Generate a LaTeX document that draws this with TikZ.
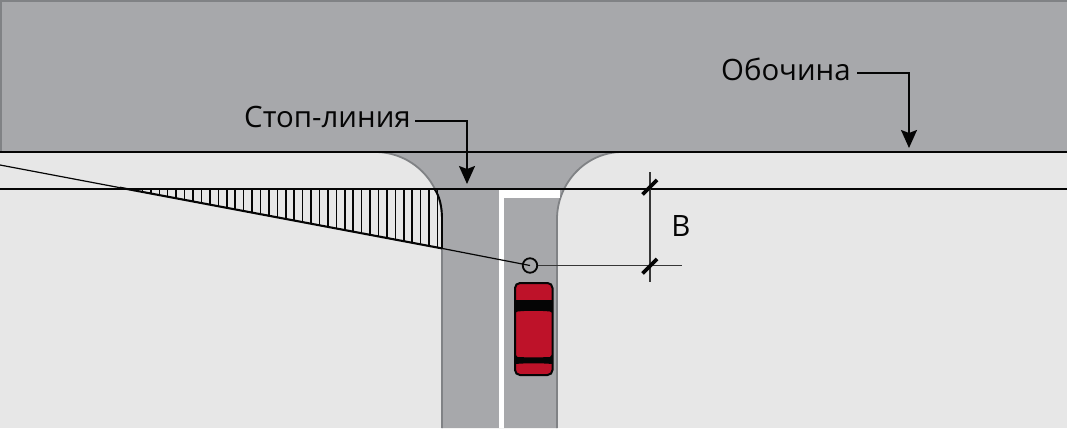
\documentclass[tikz,border=0pt]{standalone}
\usepackage{fontspec}
\setmainfont{Open Sans}
\usetikzlibrary{arrows.meta}
\definecolor{roadgrey}{HTML}{A7A8AB}
\definecolor{landgrey}{HTML}{E7E7E7}
\definecolor{edgegrey}{HTML}{808285}
\definecolor{carred}{HTML}{BE1229}
\definecolor{inkblack}{HTML}{050505}
\tikzset{
  roadline/.style={draw=inkblack,line width=2.1pt},
  thinline/.style={draw=inkblack!80,line width=1.2pt},
  hatchline/.style={draw=inkblack,line width=1.5pt},
  tick/.style={draw=inkblack,line width=3.6pt},
  pointer/.style={draw=inkblack,line width=1.7pt,-{Stealth[length=18pt,width=16pt,inset=3pt]}},
  labeltext/.style={font=\fontsize{29.4}{33}\selectfont,text=inkblack,inner sep=0pt},
  kerb/.style={draw=edgegrey,line width=1.8pt}
}
\begin{document}
\begin{tikzpicture}[x=1pt,y=-1pt]
\useasboundingbox (0,0) rectangle (1067,428);
\fill[landgrey] (0,0) rectangle (1067,428);
% main road
\fill[roadgrey] (0,0) rectangle (1067,152);
\draw[edgegrey,line width=2pt] (1,152) -- (1,1) -- (1067,1);
% side road
\fill[roadgrey] (375,152) .. controls (412,152) and (442,182) .. (442,219) -- (442,428) -- (557,428) -- (557,219) .. controls (557,183) and (586,152) .. (622,152) -- cycle;
\draw[kerb] (375,152) .. controls (412,152) and (442,182) .. (442,219) -- (442,428);
\draw[kerb] (622,152) .. controls (586,152) and (557,183) .. (557,219) -- (557,428);
% white stop line
\fill[white] (499,189) rectangle (560,198);
\fill[white] (499,189) rectangle (503.5,428);
% hatch
\begin{scope}
\clip (119,188) -- (443,188) -- (443,249) -- cycle;
\foreach \i in {0,...,38} {
  \draw[hatchline] ({437.5-\i*8.43},185) -- ({437.5-\i*8.43},255);
}
\end{scope}
\draw[draw=inkblack,line width=1.9pt] (434.5,189) .. controls (439.5,196) and (442,206) .. (442,219) -- (442,248);
% road lines
\draw[roadline] (0,152) -- (1067,152);
\draw[roadline] (0,189) -- (1067,189);
% sight line
\coordinate (sightstart) at (0,165);
\coordinate (hatchcorner) at (442,248.4);
\coordinate (hatchstart) at (120,187.7);
\node[circle,draw=inkblack,line width=1.8pt,minimum size=14.5pt,inner sep=0pt] (eye) at (530,265.5) {};
\draw[draw=inkblack,line width=1.2pt] (sightstart) -- (hatchstart);
\draw[draw=inkblack,line width=2.1pt] (hatchstart) -- (hatchcorner);
\draw[draw=inkblack,line width=1.2pt] (hatchcorner) -- (eye.center);
% dimension
\coordinate (dimtop) at (650,172);
\coordinate (dimbot) at (650,282);
\coordinate (dimend) at (682,265.5);
\draw[thinline] (dimtop) -- (dimbot);
\draw[thinline] (eye.east) -- (dimend);
\coordinate (tickaa) at (642.5,194.5);
\coordinate (tickab) at (657,180);
\coordinate (tickba) at (642.5,273.5);
\coordinate (tickbb) at (657,259);
\draw[tick] (tickaa) -- (tickab);
\draw[tick] (tickba) -- (tickbb);
\node[labeltext,anchor=base] (blabel) at (681,236) {В};
% labels
\node[labeltext,anchor=base west] (stop) at (244,127) {Стоп-линия};
\node[labeltext,anchor=base west] (shoulder) at (721,80) {Обочина};
\coordinate (stopbend) at (467,121);
\coordinate (stoptip) at (467,184);
\coordinate (shoulderbend) at (909,73);
\coordinate (shouldertip) at (909,148);
\draw[pointer] (415,121) -- (stopbend) -- (stoptip);
\draw[pointer] (857,73) -- (shoulderbend) -- (shouldertip);
% car
\begin{scope}
\draw[fill=carred,draw=inkblack,line width=2pt,rounded corners=5pt] (515,283) rectangle (552.5,375);
\fill[inkblack] (515,300) -- (552.5,300) -- (552.5,313) -- (550,311.5) .. controls (540,310.5) and (527,310.5) .. (517.5,311.5) -- (515,313) -- cycle;
\fill[inkblack] (515,354) -- (517.5,357) .. controls (527,357.5) and (540,357.5) .. (550,357) -- (552.5,354) -- (552.5,364) .. controls (540,363) and (527,363) .. (515,364) -- cycle;
\end{scope}
\end{tikzpicture}
\end{document}
